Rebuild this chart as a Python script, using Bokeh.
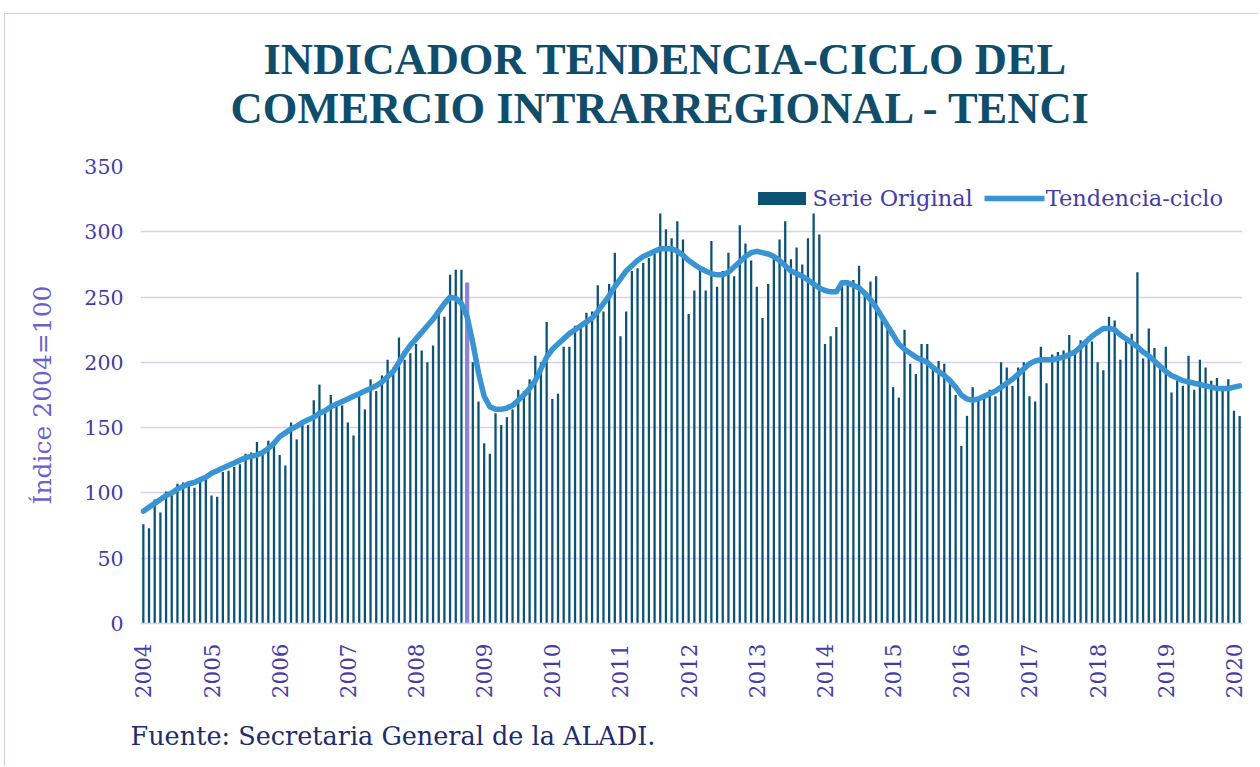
from math import pi
from bokeh.plotting import figure
from bokeh.models import (ColumnDataSource, Range1d, FixedTicker, Legend,
                          LegendItem, Title)
from bokeh.embed import file_html
from bokeh.resources import INLINE

# ---------------- data ----------------
anios = [str(a) for a in range(2004, 2021)]
meses = [f"{a}-{m:02d}" for a in range(2004, 2021) for m in range(1, 13)][:194]

serie_original = [
    76, 73, 95, 85, 101, 98, 107, 108, 109, 104, 112, 113,
    98, 97, 116, 117, 120, 122, 130, 131, 139, 130, 140, 138,
    129, 121, 154, 141, 155, 152, 171, 183, 161, 175, 170, 167,
    154, 144, 174, 164, 187, 178, 190, 202, 196, 219, 202, 207,
    214, 209, 200, 213, 237, 235, 267, 271, 271, 261, 200, 170,
    138, 130, 161, 152, 158, 164, 179, 178, 187, 205, 200, 231,
    172, 176, 212, 212, 228, 227, 238, 239, 259, 239, 260, 284,
    220, 239, 270, 272, 276, 280, 283, 314, 302, 295, 308, 294,
    237, 255, 273, 255, 293, 258, 270, 284, 266, 305, 291, 278,
    258, 234, 260, 280, 294, 308, 279, 288, 275, 295, 314, 298,
    214, 220, 227, 258, 259, 263, 274, 255, 262, 266, 236, 228,
    181, 173, 225, 199, 191, 214, 214, 196, 201, 199, 188, 175,
    136, 159, 181, 173, 175, 179, 174, 200, 196, 182, 196, 200,
    174, 170, 212, 184, 206, 208, 209, 221, 210, 217, 216, 216,
    200, 194, 235, 232, 202, 219, 222, 269, 203, 226, 211, 195,
    212, 177, 186, 182, 205, 179, 202, 196, 186, 188, 181, 187,
    163, 159,
]

tendencia_ciclo = [
    86, 89, 92, 95, 98, 100, 103, 105, 107, 108, 110, 112,
    115, 117, 119, 121, 123, 125, 127, 128, 129, 131, 134, 138,
    143, 146, 149, 151, 154, 156, 158, 161, 163, 166, 168, 170,
    172, 174, 176, 178, 180, 182, 185, 189, 193, 200, 207, 213,
    218, 223, 228, 233, 239, 245, 250, 249, 245, 235, 215, 192,
    174, 166, 164, 164, 165, 167, 171, 175, 180, 186, 195, 204,
    210, 214, 218, 222, 225, 228, 231, 234, 239, 245, 251, 258,
    264, 270, 274, 278, 281, 283, 285, 287, 287, 287, 285, 282,
    278, 275, 272, 270, 268, 267, 267, 269, 273, 277, 281, 284,
    285, 284, 283, 281, 278, 274, 270, 268, 266, 263, 260, 257,
    255, 254, 254, 261, 261, 259, 257, 253, 248, 242, 235, 228,
    221, 214, 210, 207, 204, 202, 200, 196, 193, 190, 186, 181,
    175, 172, 171, 172, 174, 176, 178, 181, 184, 187, 191, 195,
    199, 201, 202, 202, 202, 203, 204, 206, 208, 212, 216, 220,
    223, 226, 226, 225, 221, 218, 215, 212, 208, 205, 201, 197,
    193, 190, 188, 186, 185, 184, 183, 182, 181, 180, 180, 180,
    181, 182,
]

mes_destacado = "2008-10"
ticks_y = [0, 50, 100, 150, 200, 250, 300, 350]

titulo_1 = "INDICADOR TENDENCIA-CICLO DEL"
titulo_2 = "COMERCIO INTRARREGIONAL - TENCI"
eje_y = "Índice 2004=100"
fuente = "Fuente: Secretaria General de la ALADI."

# ---------------- styles ----------------
C_BAR = "#0b5273"
C_TREND = "#3894d2"
C_HI = "#8c84d8"
C_GRID = "#d6d1f2"
C_TICK = "#463ca8"
C_YLAB = "#6c60cc"
C_TITLE = "#0f4d6b"
C_SRC = "#1d2c6c"
C_FRAME = "#d3cef0"
SERIF = "DejaVu Serif"

x = list(range(len(meses)))
src = ColumnDataSource(dict(x=x, v=serie_original, mes=meses))
i_hi = meses.index(mes_destacado)
src_hi = ColumnDataSource(dict(x=[i_hi], v=[serie_original[i_hi]]))
src_t = ColumnDataSource(dict(x=x, t=tendencia_ciclo))

p = figure(width=1254, height=753, output_backend="svg", toolbar_location=None,
           x_range=Range1d(-0.5, len(meses) - 0.5), y_range=Range1d(0, 350),
           min_border_left=135, min_border_right=17, min_border_top=152,
           min_border_bottom=143)
p.outline_line_color = None
p.background_fill_color = "white"
p.border_fill_color = "white"
p.styles = {"border-top": f"1px solid {C_FRAME}",
            "border-left": f"1px solid {C_FRAME}",
            "margin-top": "13px", "margin-left": "4px"}

bars = p.vbar(x="x", top="v", width=0.4, source=src, fill_color=C_BAR,
              line_color=None)
p.vbar(x="x", top="v", width=0.75, source=src_hi, fill_color=C_HI, line_color=None)
trend = p.line(x="x", y="t", source=src_t, line_color=C_TREND, line_width=5.5,
               line_cap="round", line_join="round")

# axes
p.xgrid.grid_line_color = None
p.ygrid.grid_line_color = C_GRID
p.ygrid.grid_line_width = 1.5
p.yaxis.ticker = FixedTicker(ticks=ticks_y)
p.yaxis.axis_line_color = None
p.yaxis.major_tick_line_color = None
p.yaxis.minor_tick_line_color = None
p.yaxis.major_label_text_font = SERIF
p.yaxis.major_label_text_font_size = "20.5px"
p.yaxis.major_label_text_color = C_TICK
p.yaxis.major_label_standoff = 11
p.yaxis.axis_label = eje_y
p.yaxis.axis_label_text_font = SERIF
p.yaxis.axis_label_text_font_size = "25px"
p.yaxis.axis_label_text_font_style = "normal"
p.yaxis.axis_label_text_color = C_YLAB
p.yaxis.axis_label_standoff = 24

tick_pos = [meses.index(f"{a}-01") for a in anios if f"{a}-01" in meses]
p.xaxis.ticker = FixedTicker(ticks=tick_pos)
p.xaxis.major_label_overrides = {pos: a for pos, a in zip(tick_pos, anios)}
p.xaxis.major_label_orientation = pi / 2
p.xaxis.axis_line_color = C_GRID
p.xaxis.axis_line_width = 1.5
p.xaxis.major_tick_line_color = None
p.xaxis.minor_tick_line_color = None
p.xaxis.major_label_text_font = SERIF
p.xaxis.major_label_text_font_size = "21.5px"
p.xaxis.major_label_text_color = C_TICK
p.xaxis.major_label_standoff = 14

# legend
leg = Legend(items=[LegendItem(label="Serie Original", renderers=[bars]),
                    LegendItem(label="Tendencia-ciclo", renderers=[trend])],
             orientation="horizontal", location="top_right")
leg.glyph_width = 60
leg.glyph_height = 16
leg.label_standoff = 1
leg.spacing = 12
leg.padding = 4
leg.margin = 19
leg.background_fill_alpha = 0
leg.border_line_color = None
leg.label_text_font = SERIF
leg.label_text_font_size = "22.5px"
leg.label_text_color = C_TICK
p.add_layout(leg)

# titles (nearest to the frame first)
t2 = Title(text=titulo_2, align="left", offset=90, standoff=67,
           text_font="Liberation Serif", text_font_style="bold",
           text_font_size="44.5px", text_color=C_TITLE)
t1 = Title(text=titulo_1, align="left", offset=123, standoff=-73,
           text_font="Liberation Serif", text_font_style="bold",
           text_font_size="44.5px", text_color=C_TITLE)
p.add_layout(t2, "above")
p.add_layout(t1, "above")

src_title = Title(text=fuente, align="left", offset=-10, standoff=34,
                  text_font=SERIF, text_font_style="normal",
                  text_font_size="25.5px", text_color=C_SRC)
p.add_layout(src_title, "below")

open("out.html", "w").write(file_html(p, INLINE))
